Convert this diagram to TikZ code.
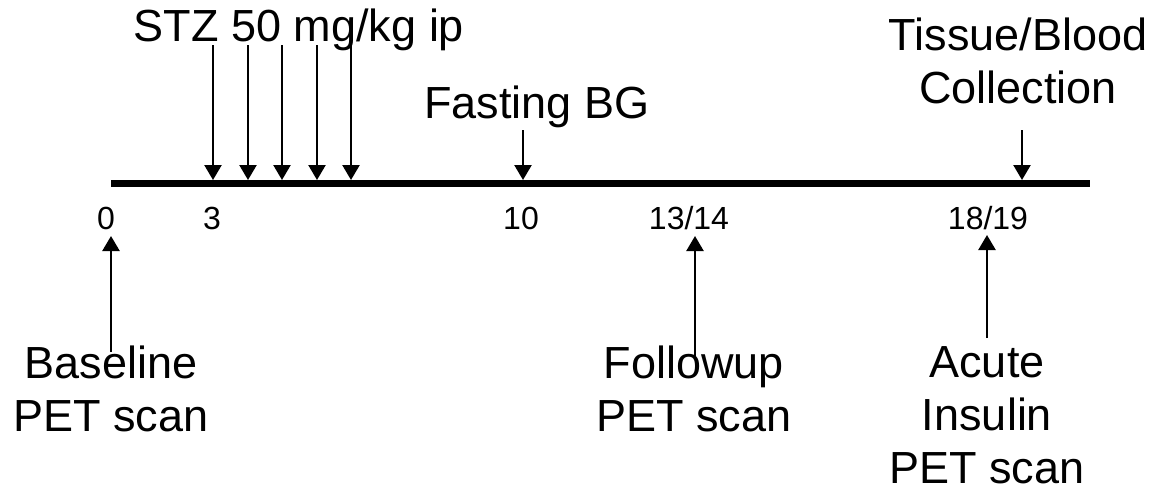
\documentclass[tikz,border=0pt]{standalone}
\usepackage{fontspec}
\setmainfont{Liberation Sans}
\usetikzlibrary{arrows.meta}
\begin{document}
\begin{tikzpicture}[x=1pt,y=1pt,
  lbl/.style={inner sep=0pt, font=\fontsize{45}{53}\selectfont, align=center, anchor=base},
  tick/.style={inner sep=0pt, font=\fontsize{32}{38}\selectfont, anchor=base},
  arr/.style={line width=2.4pt, -{Triangle[width=17pt,length=15pt]}},
  axis/.style={line width=7pt}
]
\useasboundingbox (0,0) rectangle (1160,-496);
% timeline
\coordinate (L) at (111,-183.5);
\coordinate (R) at (1090,-183.5);
\draw[axis] (L) -- (R);
% labels (base anchor = baseline of the last line)
\node[lbl] (stz) at (299,-41) {STZ 50 mg/kg ip};
\node[lbl] (fbg) at (537,-118) {Fasting BG};
\node[lbl] (tbc) at (1018,-103) {Tissue/Blood\\Collection};
\node[lbl] (bpet) at (111,-431) {Baseline\\PET scan};
\node[lbl] (fpet) at (694,-431) {Followup\\PET scan};
\node[lbl] (apet) at (987,-483) {Acute\\Insulin\\PET scan};
% ticks
\node[tick] (t0) at (106,-229) {0};
\node[tick] (t3) at (212,-229) {3};
\node[tick] (t10) at (521,-229) {10};
\node[tick] (t13) at (689,-229) {13/14};
\node[tick] (t18) at (988,-229) {18/19};
% STZ arrows
\foreach \x [count=\i] in {213,248,282,317,351}{
  \coordinate (s\i a) at (\x,-45);
  \coordinate (s\i b) at (\x,-180);
  \draw[arr] (s\i a) -- (s\i b);
}
% fasting arrow
\coordinate (fa) at (523,-130);
\coordinate (fb) at (523,-180);
\draw[arr] (fa) -- (fb);
% tissue arrow
\coordinate (ta) at (1022,-130);
\coordinate (tb) at (1022,-180);
\draw[arr] (ta) -- (tb);
% up arrows
\coordinate (ba) at (111,-352);
\coordinate (bb) at (111,-236);
\draw[arr] (ba) -- (bb);
\coordinate (fua) at (695,-360);
\coordinate (fub) at (695,-236);
\draw[arr] (fua) -- (fub);
\coordinate (aa) at (987,-338);
\coordinate (ab) at (987,-235);
\draw[arr] (aa) -- (ab);
\end{tikzpicture}
\end{document}
